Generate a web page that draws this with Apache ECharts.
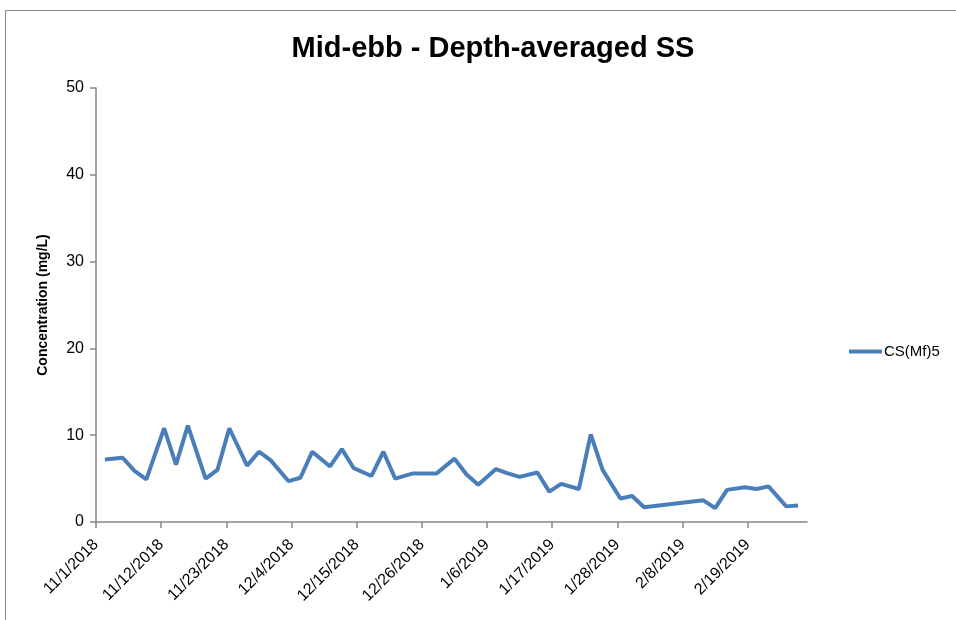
<!DOCTYPE html>
<html>
<head>
<meta charset="utf-8">
<script src="https://cdn.jsdelivr.net/npm/echarts@6/dist/echarts.min.js"></script>
<style>html,body{margin:0;padding:0;background:#fff;}#c{width:956px;height:620px;}</style>
</head>
<body>
<div id="c"></div>
<script>
var startDate = '2018-11-01';
var endDate = '2019-03-01';
var tickDays = 11;
var dates = ['2018-11-02','2018-11-05','2018-11-07','2018-11-09','2018-11-12','2018-11-14','2018-11-16','2018-11-19','2018-11-21','2018-11-23','2018-11-26','2018-11-28','2018-11-30','2018-12-03','2018-12-05','2018-12-07','2018-12-10','2018-12-12','2018-12-14','2018-12-17','2018-12-19','2018-12-21','2018-12-24','2018-12-28','2018-12-31','2019-01-02','2019-01-04','2019-01-07','2019-01-09','2019-01-11','2019-01-14','2019-01-16','2019-01-18','2019-01-21','2019-01-23','2019-01-25','2019-01-28','2019-01-30','2019-02-01','2019-02-11','2019-02-13','2019-02-15','2019-02-18','2019-02-20','2019-02-22','2019-02-25','2019-02-27'];
var values = [7.2,7.4,5.9,4.9,10.8,6.6,11.1,5.0,6.0,10.8,6.5,8.1,7.1,4.7,5.1,8.1,6.4,8.4,6.2,5.3,8.1,5.0,5.6,5.6,7.3,5.5,4.3,6.1,5.6,5.2,5.7,3.5,4.4,3.8,10.1,6.0,2.7,3.0,1.7,2.5,1.6,3.7,4.0,3.8,4.1,1.8,1.9];
var seriesName = 'CS(Mf)5';
var titleText = 'Mid-ebb - Depth-averaged SS';
var yName = 'Concentration (mg/L)';

var DAY = 86400000;
var t0 = Date.parse(startDate + 'T00:00:00Z');
function dayOf(d){ return (Date.parse(d + 'T00:00:00Z') - t0) / DAY; }
// Excel "between tick marks": each day's point is centred within its day
var data = dates.map(function(d, i){ return [dayOf(d) + 0.5, values[i]]; });
function fmt(v){
  var dt = new Date(t0 + v * DAY);
  return (dt.getUTCMonth()+1) + '/' + dt.getUTCDate() + '/' + dt.getUTCFullYear();
}
var font = "'Liberation Sans', Arial, sans-serif";
var chart = echarts.init(document.getElementById('c'), null, {renderer:'canvas'});
chart.setOption({
  animation: false,
  backgroundColor: '#fff',
  title: {text: titleText, left: 488, top: 29, textAlign: 'center',
    textStyle: {fontFamily: font, fontSize: 29, fontWeight: 'bold', color: '#000'}},
  legend: {data: [seriesName], left: 844, top: 339, itemWidth: 33, itemHeight: 4, itemGap: 4,
    icon: 'rect', textStyle: {fontFamily: font, fontSize: 15, color: '#000', padding:[0,0,0,-3]}},
  grid: {left: 96, top: 88, width: 711, height: 434, containLabel: false},
  xAxis: {type: 'value', min: 0, max: dayOf(endDate), interval: tickDays,
    axisLine: {show: true, lineStyle: {color: '#868686', width: 1.5}},
    axisTick: {show: true, inside: false, length: 6, lineStyle: {color: '#868686', width: 1.5}},
    splitLine: {show: false},
    axisLabel: {rotate: 45, margin: 20, fontFamily: font, fontSize: 16, color: '#000',
      formatter: function(v){ return fmt(v); }, showMaxLabel: false}},
  yAxis: {type: 'value', min: 0, max: 50, interval: 10,
    name: yName, nameLocation: 'middle', nameGap: 46, nameRotate: 90,
    nameTextStyle: {fontFamily: font, fontSize: 14, fontWeight: 'bold', color: '#000'},
    axisLine: {show: true, lineStyle: {color: '#868686', width: 1.5}},
    axisTick: {show: true, inside: false, length: 6, lineStyle: {color: '#868686', width: 1.5}},
    splitLine: {show: false},
    axisLabel: {margin: 12, fontFamily: font, fontSize: 16, color: '#000'}},
  graphic: [{type: 'rect', shape: {x: 5.5, y: 10.5, width: 980, height: 640},
    style: {fill: 'none', stroke: '#888', lineWidth: 1}, silent: true, z: -1}],
  series: [{type: 'line', name: seriesName, data: data, showSymbol: false, symbol: 'none',
    lineStyle: {color: '#4a7ebb', width: 4}, itemStyle: {color: '#4a7ebb'}}]
});
</script>
</body>
</html>
